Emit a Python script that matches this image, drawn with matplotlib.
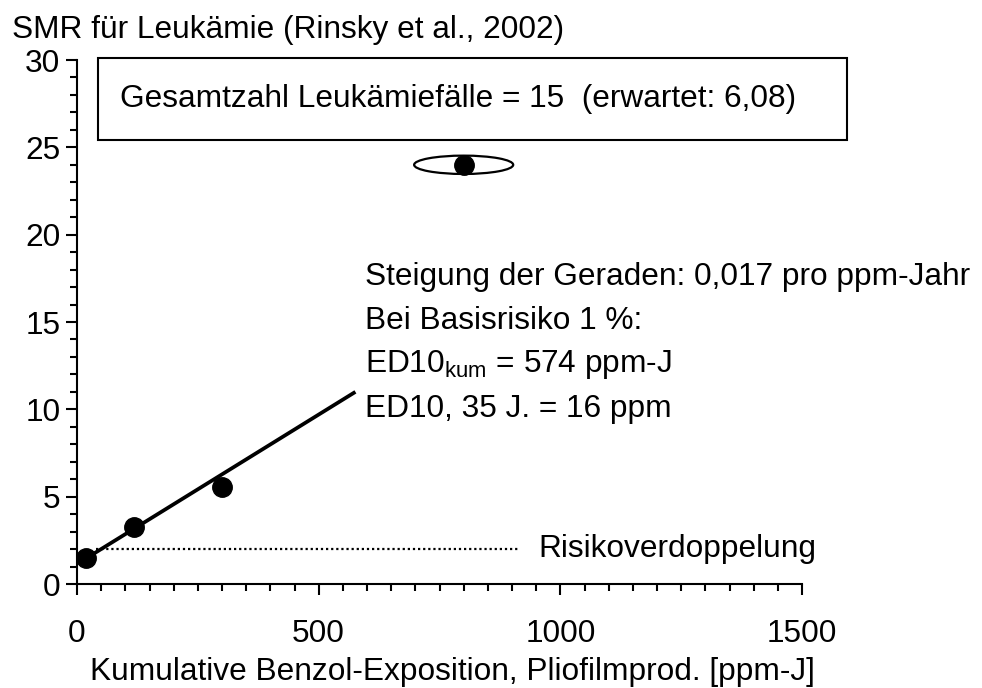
import matplotlib
matplotlib.use("Agg")
import matplotlib.pyplot as plt
from matplotlib.patches import Ellipse, Rectangle
from matplotlib.ticker import MultipleLocator

plt.rcParams['font.family'] = ['Liberation Sans', 'DejaVu Sans']

# --- data ---
exposure = [18, 118, 300, 800]        # cumulative benzene exposure [ppm-J]
smr = [1.5, 3.26, 5.56, 24.0]          # SMR leukaemia
fit_x = [36, 576]                       # fitted straight line, end points
fit_y = [1.76, 11.0]
doubling_x = [40, 915]                  # risk doubling reference
doubling_y = [2.0, 2.0]

title = "SMR für Leukämie (Rinsky et al., 2002)"
xlabel = "Kumulative Benzol-Exposition, Pliofilmprod. [ppm-J]"
box_text = "Gesamtzahl Leukämiefälle = 15  (erwartet: 6,08)"
note_lines = [
    "Steigung der Geraden: 0,017 pro ppm-Jahr",
    "Bei Basisrisiko 1 %:",
    r"ED10$_{\mathregular{kum}}$ = 574 ppm-J",
    "ED10, 35 J. = 16 ppm",
]
doubling_label = "Risikoverdoppelung"

FS = 22.8

fig = plt.figure(figsize=(9.82, 6.88), dpi=100)
ax = fig.add_axes([77 / 982, 1 - 584 / 688, (802 - 77) / 982, (584 - 60) / 688])

ax.set_xlim(0, 1500)
ax.set_ylim(0, 30)
for s in ['top', 'right']:
    ax.spines[s].set_visible(False)
for s in ['left', 'bottom']:
    ax.spines[s].set_linewidth(1.5)

ax.xaxis.set_major_locator(MultipleLocator(500))
ax.xaxis.set_minor_locator(MultipleLocator(50))
ax.yaxis.set_major_locator(MultipleLocator(5))
ax.yaxis.set_minor_locator(MultipleLocator(1))
ax.tick_params(which='major', direction='out', length=8, width=1.5, labelsize=FS)
ax.tick_params(which='minor', direction='out', length=5, width=1.5)
ax.tick_params(axis='x', which='major', pad=17)
ax.tick_params(axis='y', which='major', pad=4)

# reference line and fit
ax.plot(doubling_x, doubling_y, color='black', lw=1.6, linestyle=(0, (1, 1.3)),
        zorder=2)
ax.plot(fit_x, fit_y, color='black', lw=2.7, solid_capstyle='butt', zorder=3)
ax.plot(exposure, smr, 'o', color='black', markersize=14, zorder=4)

# ellipse around the top point
ax.add_patch(Ellipse((exposure[-1], smr[-1]), 205, 1.05, fill=False,
                     edgecolor='black', lw=1.6, zorder=3))

# framed total count
ax.add_patch(Rectangle((43, 25.4), 1551, 4.7, fill=False, edgecolor='black',
                       lw=1.5, clip_on=False, zorder=5))
ax.text(90, 27.75, box_text, fontsize=FS, va='center', ha='left')

# slope notes
for i, line in enumerate(note_lines):
    ax.text(595, 17.6 - i * 2.52, line, fontsize=FS, va='center', ha='left')

ax.text(955, 2.0, doubling_label, fontsize=FS, va='center', ha='left')

fig.text(11.5 / 982, 1 - 38 / 688, title, fontsize=FS, ha='left',
         va='baseline')
fig.text(452 / 982, 1 - 680 / 688, xlabel, fontsize=FS, ha='center',
         va='baseline')

fig.savefig("out.png", dpi=100)
